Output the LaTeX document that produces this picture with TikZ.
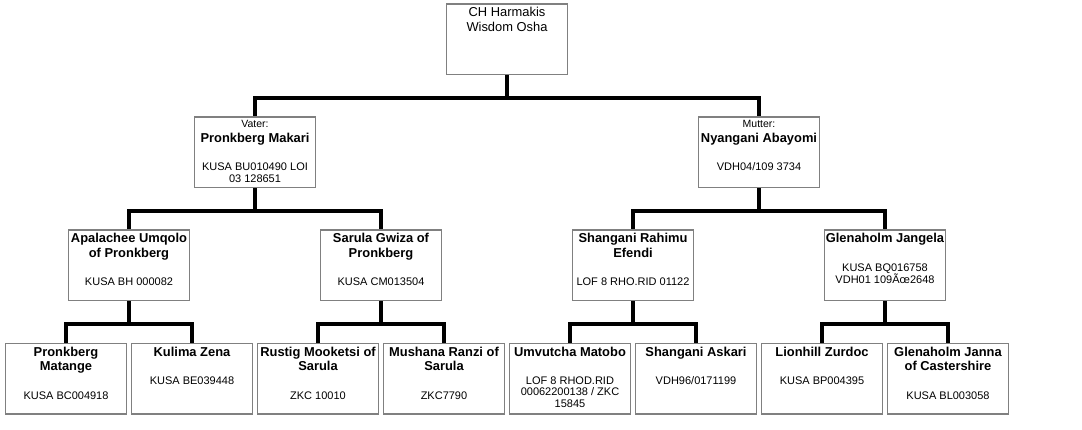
\documentclass[tikz,border=0pt]{standalone}
\usepackage{fontspec}
\setmainfont{Liberation Sans}
\setlength{\parskip}{0pt}
\definecolor{cardgray}{RGB}{128,128,128}
\newcommand{\pname}{\fontsize{12.9}{14.8}\selectfont\bfseries}
\newcommand{\preg}{\normalfont\fontsize{11}{11.5}\selectfont}
\newcommand{\prole}{\normalfont\fontsize{10.5}{12}\selectfont}
\newcommand{\pcard}[1]{\parbox[c][70.7pt][t]{119pt}{\centering #1}}
\newcommand{\dog}[2]{\pcard{\pname\rule{0pt}{12.8pt}#1\par\vspace{16.8pt}\preg #2}}
\newcommand{\elter}[3]{\pcard{\prole\rule{0pt}{10.8pt}#1\par\pname #2\par\vspace{16.8pt}\preg #3}}

\begin{document}
\begin{tikzpicture}[x=1pt, y=-1pt]
\tikzstyle{card}=[draw=cardgray, line width=1.3pt, inner sep=0pt, minimum width=121pt, anchor=north]
\tikzstyle{link}=[line width=4pt]
\useasboundingbox (0,0) rectangle (1082,429);
% Hund
\node[card] (ch) at (507,3.3)
	{\pcard{\fontsize{12.9}{15}\selectfont\rule{0pt}{12.8pt}CH Harmakis\\Wisdom Osha}};
% Eltern
\node[card] (v) at (255,116.3) {\elter{Vater:}{Pronkberg Makari}{KUSA BU010490 LOI\\03 128651}};
\node[card] (m) at (759,116.3) {\elter{Mutter:}{Nyangani Abayomi}{VDH04/109 3734}};
% Grosseltern
\node[card] (vv) at (129,229.3) {\dog{Apalachee Umqolo\\of Pronkberg}{KUSA BH 000082}};
\node[card] (vm) at (381,229.3) {\dog{Sarula Gwiza of\\Pronkberg}{KUSA CM013504}};
\node[card] (mv) at (633,229.3) {\dog{Shangani Rahimu\\Efendi}{LOF 8 RHO.RID 01122}};
\node[card] (mm) at (885,229.3) {\dog{Glenaholm Jangela}{KUSA BQ016758\\VDH01 109Ãœ2648}};
% Urgrosseltern
\node[card] (vvv) at (66,342.7)  {\dog{Pronkberg\\Matange}{KUSA BC004918}};
\node[card] (vvm) at (192,342.7) {\dog{Kulima Zena}{KUSA BE039448}};
\node[card] (vmv) at (318,342.7) {\dog{Rustig Mooketsi of\\Sarula}{ZKC 10010}};
\node[card] (vmm) at (444,342.7) {\dog{Mushana Ranzi of\\Sarula}{ZKC7790}};
\node[card] (mvv) at (570,342.7) {\dog{Umvutcha Matobo}{LOF 8 RHOD.RID\\00062200138 / ZKC\\15845}};
\node[card] (mvm) at (696,342.7) {\dog{Shangani Askari}{VDH96/0171199}};
\node[card] (mmv) at (822,342.7) {\dog{Lionhill Zurdoc}{KUSA BP004395}};
\node[card] (mmm) at (948,342.7) {\dog{Glenaholm Janna\\of Castershire}{KUSA BL003058}};
% Linien
\foreach \p/\a/\b in {ch/v/m, v/vv/vm, m/mv/mm, vv/vvv/vvm, vm/vmv/vmm, mv/mvv/mvm, mm/mmv/mmm}
	\draw[link] (\p.south) -- ++(0,22.7) -| (\a.north)
		(\p.south) ++(0,22.7) -| (\b.north);
\end{tikzpicture}
\end{document}
